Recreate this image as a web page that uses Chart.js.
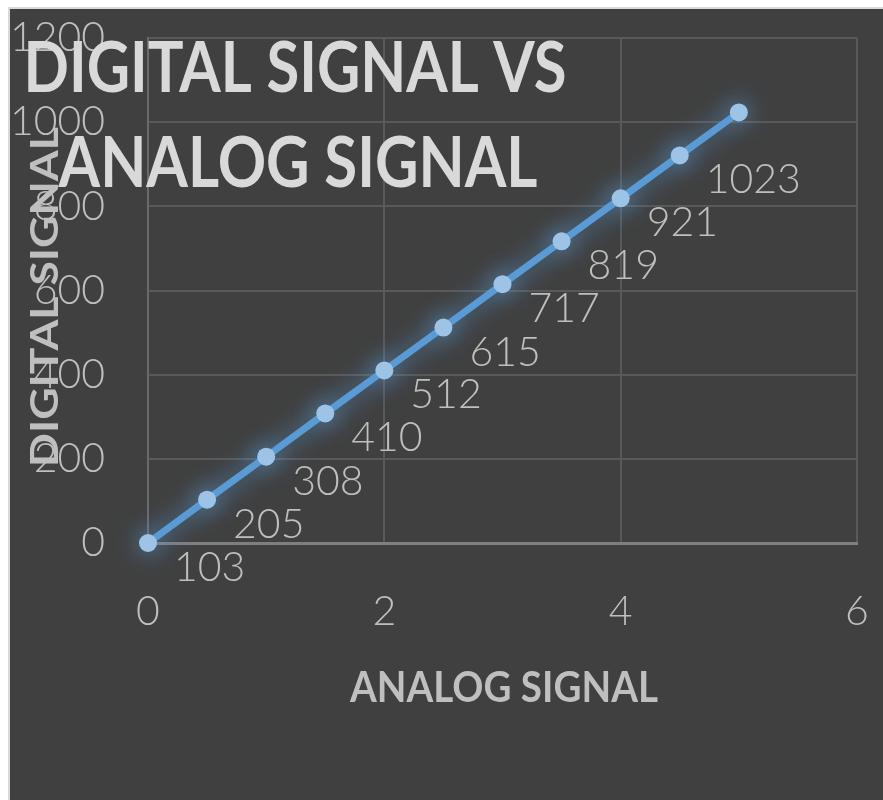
<!DOCTYPE html>
<html>
<head>
<meta charset="utf-8">
<script src="https://cdn.jsdelivr.net/npm/chart.js@4.4.1/dist/chart.umd.min.js"></script>
<style>
  html, body { margin: 0; padding: 0; background: #ffffff; }
  canvas { display: block; }
</style>
</head>
<body>
<canvas id="chart" width="883" height="800"></canvas>
<script>
// analog input (V) vs digital output
const analogValues = [0, 0.5, 1, 1.5, 2, 2.5, 3, 3.5, 4, 4.5, 5];
const digitalValues = [0, 103, 205, 308, 410, 512, 615, 717, 819, 921, 1023];
const pointLabels = ["103", "205", "308", "410", "512", "615", "717", "819", "921", "1023", ""];
const titleLines = ["DIGITAL SIGNAL VS", "ANALOG SIGNAL"];
const xTitle = "ANALOG SIGNAL";
const yTitle = "DIGITAL SIGNAL";

const panelColor = "#404040";
const textColor = "#bfbfbf";
const gridColor = "#595959";
const fontFamily = "Lato, 'Open Sans', sans-serif";

// draw text centred on cx, squeezed/stretched to a given width
function fitText(ctx, text, cx, baseline, width) {
  const w = ctx.measureText(text).width;
  ctx.save();
  ctx.translate(cx, baseline);
  ctx.scale(width / w, 1);
  ctx.textAlign = "center";
  ctx.fillText(text, 0, 0);
  ctx.restore();
}

const panelBg = {
  id: "panelBg",
  beforeDraw(chart) {
    const ctx = chart.ctx;
    ctx.save();
    ctx.fillStyle = "#ffffff";
    ctx.fillRect(0, 0, chart.width, chart.height);
    ctx.fillStyle = "#d9d9d9";
    ctx.fillRect(8, 7, chart.width - 8, chart.height - 7);
    ctx.fillStyle = panelColor;
    ctx.fillRect(10, 9, chart.width - 10, chart.height - 9);
    ctx.restore();
  }
};

const glow = {
  id: "glow",
  beforeDatasetDraw(chart) {
    const ctx = chart.ctx;
    ctx.save();
    ctx.shadowColor = "rgba(91,155,213,0.9)";
    ctx.shadowBlur = 24;
  },
  afterDatasetDraw(chart) {
    chart.ctx.restore();
  }
};

const labelsAndTitles = {
  id: "labelsAndTitles",
  afterDraw(chart) {
    const ctx = chart.ctx;
    const meta = chart.getDatasetMeta(0);
    ctx.save();
    ctx.fillStyle = textColor;
    ctx.font = "300 41px " + fontFamily;
    ctx.textAlign = "left";
    ctx.textBaseline = "alphabetic";
    meta.data.forEach((pt, i) => {
      ctx.fillText(pointLabels[i], pt.x + 26, pt.y + 38);
    });

    // axis titles
    ctx.font = "bold 42px " + fontFamily;
    fitText(ctx, xTitle, 504, 702, 308);

    ctx.save();
    ctx.translate(58, 297);
    ctx.rotate(-Math.PI / 2);
    ctx.font = "bold 39px " + fontFamily;
    fitText(ctx, yTitle, 0, 0, 340);
    ctx.restore();

    // chart title
    ctx.fillStyle = "#d9d9d9";
    ctx.font = "bold 70px " + fontFamily;
    fitText(ctx, titleLines[0], 295, 92, 543);
    fitText(ctx, titleLines[1], 298, 187, 479);
    ctx.restore();
  }
};

function fixScalePadding(scale) {
  scale.paddingTop = 0;
  scale.paddingBottom = 0;
  scale.paddingLeft = 0;
  scale.paddingRight = 0;
}

new Chart(document.getElementById("chart"), {
  type: "scatter",
  data: {
    datasets: [{
      label: "Digital",
      data: analogValues.map((x, i) => ({ x: x, y: digitalValues[i] })),
      showLine: true,
      clip: false,
      borderColor: "#5b9bd5",
      borderWidth: 7,
      pointRadius: 9,
      pointBackgroundColor: "#9dc3e6",
      pointBorderColor: "#9dc3e6",
      pointBorderWidth: 0
    }]
  },
  options: {
    responsive: false,
    animation: false,
    layout: { padding: { left: 0, top: 38, right: 26, bottom: 0 } },
    plugins: {
      legend: { display: false },
      tooltip: { enabled: false }
    },
    scales: {
      x: {
        type: "linear",
        min: 0,
        max: 6,
        ticks: {
          stepSize: 2,
          color: textColor,
          padding: 44,
          font: { family: fontFamily, size: 41, weight: "300" },
          callback: (v) => String(v)
        },
        grid: { color: gridColor, lineWidth: 2, drawTicks: false },
        border: { color: "#7f7f7f", width: 3 },
        afterFit(scale) { scale.height = 257; fixScalePadding(scale); }
      },
      y: {
        min: 0,
        max: 1200,
        ticks: {
          stepSize: 200,
          color: textColor,
          padding: 43,
          font: { family: fontFamily, size: 41, weight: "300" },
          callback: (v) => String(v)
        },
        grid: { color: gridColor, lineWidth: 2, drawTicks: false },
        border: { color: "#6a6a6a", width: 2 },
        afterFit(scale) { scale.width = 148; fixScalePadding(scale); }
      }
    }
  },
  plugins: [panelBg, glow, labelsAndTitles]
});
</script>
</body>
</html>
